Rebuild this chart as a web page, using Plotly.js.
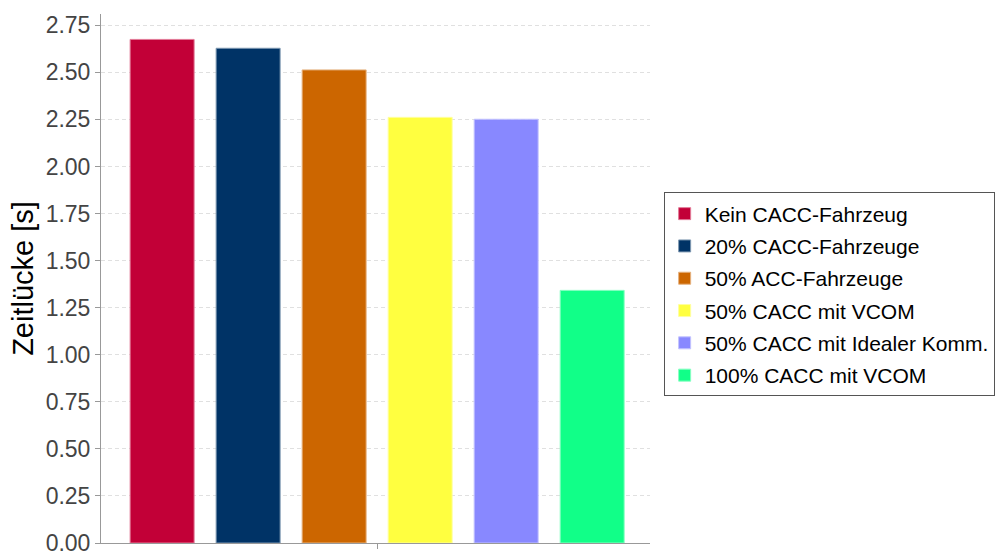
<!DOCTYPE html>
<html>
<head>
<meta charset="utf-8">
<script src="https://cdn.plot.ly/plotly-3.0.1.min.js"></script>
<style>html,body{margin:0;padding:0;background:#fff;}#chart{width:1004px;height:555px;}</style>
</head>
<body>
<div id="chart"></div>
<script>
const seriesNames = ["Kein CACC-Fahrzeug", "20% CACC-Fahrzeuge", "50% ACC-Fahrzeuge", "50% CACC mit VCOM", "50% CACC mit Idealer Komm.", "100% CACC mit VCOM"];
const seriesValues = [2.675, 2.628, 2.513, 2.261, 2.251, 1.342];
const seriesColors = ["#C20037", "#003366", "#CC6600", "#FFFF40", "#8888FF", "#11FF88"];
const lineColors = ["#e27a97", "#7f99b2", "#e5b27f", "#ffff9f", "#c3c3ff", "#88ffc3"];
const category = ["Gruppe"];

const traces = seriesNames.map((name, i) => ({
  type: "bar",
  name: name,
  legendgroup: "g" + i,
  x: category,
  y: [seriesValues[i]],
  marker: {color: seriesColors[i], line: {color: lineColors[i], width: 1}},
  hoverinfo: "name+y"
}));

const layout = {
  width: 1004,
  height: 555,
  margin: {l: 101, r: 354, t: 14, b: 12},
  paper_bgcolor: "#fff",
  plot_bgcolor: "#fff",
  font: {family: "Liberation Sans, Arial, sans-serif", color: "#444"},
  barmode: "group",
  bargap: 0.06,
  bargroupgap: 0.256,
  showlegend: true,
  legend: {
    xref: "container", yref: "container",
    x: 0.661, xanchor: "left", y: 0.4694, yanchor: "middle",
    bgcolor: "#fff", bordercolor: "#555", borderwidth: 1,
    font: {size: 21, color: "#000", family: "Liberation Sans, Arial, sans-serif"},
    tracegroupgap: 2
  },
  xaxis: {
    type: "category",
    range: [-0.503, 0.497],
    automargin: false,
    showticklabels: false,
    ticks: "outside", ticklen: 5, tickcolor: "#999",
    showline: true, linecolor: "#999", linewidth: 1,
    showgrid: false, zeroline: false, fixedrange: true
  },
  yaxis: {
    range: [0, 2.81],
    automargin: false,
    dtick: 0.25, tick0: 0,
    tickformat: ".2f",
    ticks: "outside", ticklen: 5, tickcolor: "#999",
    tickfont: {size: 23, color: "#444"},
    ticklabeloverflow: "allow",
    showline: true, linecolor: "#999", linewidth: 1,
    showgrid: true, gridcolor: "#e0e0e0", griddash: "4px,3px", gridwidth: 1,
    zeroline: false,
    title: {text: "Zeitlücke [s]", font: {size: 29, color: "#000"}}
  }
};

Plotly.newPlot("chart", traces, layout, {displayModeBar: false, staticPlot: true});
</script>
</body>
</html>
